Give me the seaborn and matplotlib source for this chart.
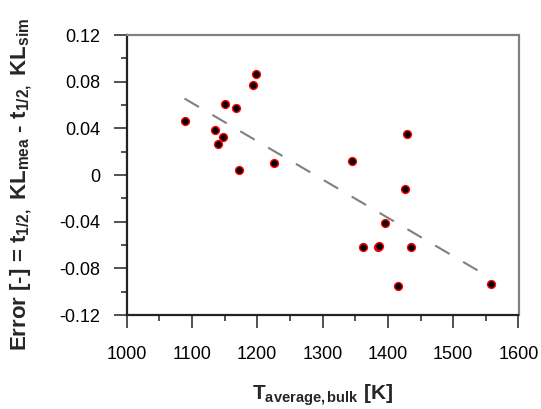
import numpy as np
import pandas as pd
import matplotlib
matplotlib.use("Agg")
import matplotlib.pyplot as plt
import matplotlib.ticker as mticker
import seaborn as sns

# ---- data ----
t_bulk = [1088.8, 1135.7, 1148.0, 1140.3, 1151.0, 1168.0, 1192.9, 1198.0, 1171.9, 1225.0,
          1345.4, 1428.6, 1426.5, 1396.4, 1361.8, 1384.2, 1386.7, 1436.2, 1416.3, 1557.7]
error = [0.0466, 0.0386, 0.0328, 0.0268, 0.0609, 0.0577, 0.0769, 0.0868, 0.0046, 0.0106,
         0.0120, 0.0349, -0.0123, -0.0409, -0.0614, -0.0614, -0.0606, -0.0620, -0.0949, -0.0931]
x_ticks = [1000, 1100, 1200, 1300, 1400, 1500, 1600]
y_ticks = [-0.12, -0.08, -0.04, 0, 0.04, 0.08, 0.12]
y_tick_labels = ["-0.12", "-0.08", "-0.04", "0", "0.04", "0.08", "0.12"]

df = pd.DataFrame({"T": t_bulk, "err": error})

sns.set_style("white")
plt.rcParams["font.family"] = ["Liberation Sans", "DejaVu Sans"]
plt.rcParams["mathtext.fontset"] = "custom"
plt.rcParams["mathtext.rm"] = "Liberation Sans"
plt.rcParams["mathtext.bf"] = "Liberation Sans:bold"
plt.rcParams["mathtext.it"] = "Liberation Sans:italic"

fig = plt.figure(figsize=(5.41, 4.09), dpi=100)
ax = fig.add_axes([126.5 / 541, 1 - 315 / 409, (518.5 - 126.5) / 541, (315 - 35) / 409])

sns.regplot(data=df, x="T", y="err", scatter=False, ci=None, truncate=True, ax=ax,
            line_kws=dict(color="#808080", lw=1.5, dashes=(8, 7.5)))
sns.scatterplot(data=df, x="T", y="err", ax=ax, s=32, color="black",
                edgecolor="red", linewidth=1.0, zorder=3)

ax.set_xlim(1000, 1600)
ax.set_ylim(-0.12, 0.12)
ax.set_xticks(x_ticks)
ax.set_yticks(y_ticks)
ax.set_yticklabels(y_tick_labels)
ax.xaxis.set_minor_locator(mticker.MultipleLocator(50))
ax.yaxis.set_minor_locator(mticker.MultipleLocator(0.02))

ax.tick_params(axis="both", which="major", direction="out", length=9.5, width=1.1,
               color="#222222", labelsize=13, labelcolor="black")
ax.tick_params(axis="both", which="minor", direction="out", length=4.5, width=1.1,
               color="#222222")
ax.tick_params(axis="x", which="major", pad=13)
ax.tick_params(axis="y", which="major", pad=9.5)
ax.tick_params(left=True, bottom=True, which="both")

for side in ["top", "right"]:
    ax.spines[side].set_color("#808080")
    ax.spines[side].set_linewidth(1.6)
for side in ["left", "bottom"]:
    ax.spines[side].set_color("#222222")
    ax.spines[side].set_linewidth(1.6)

ax.set_xlabel(r"T$_\mathbf{average,bulk}$ [K]", fontsize=15, fontweight="bold", labelpad=14)
ax.set_ylabel(r"Error [-] = t$_\mathbf{1/2,}$ KL$_\mathbf{mea}$ - t$_\mathbf{1/2,}$ KL$_\mathbf{sim}$",
              fontsize=16, fontweight="bold")
ax.yaxis.set_label_coords(-0.235, 0.468)

fig.savefig("out.png", dpi=100)
